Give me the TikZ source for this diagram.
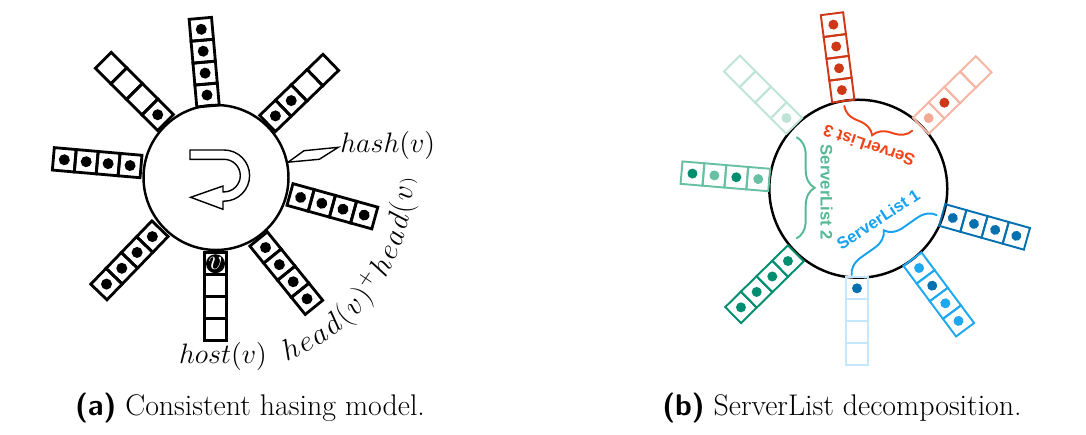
\RequirePackage{fix-cm}
\documentclass[tikz,border=0pt]{standalone}
\usepackage{fontspec}
\newfontfamily\hlvfont{Liberation Sans}
\usetikzlibrary{decorations.pathreplacing,decorations.text}
\definecolor{slred}{RGB}{206,56,22}
\definecolor{salmon}{RGB}{246,180,162}
\definecolor{salmonL}{RGB}{245,172,150}
\definecolor{tealF}{RGB}{190,228,215}
\definecolor{tealM}{RGB}{104,192,164}
\definecolor{tealD}{RGB}{0,142,112}
\definecolor{blueD}{RGB}{5,112,176}
\definecolor{blueL}{RGB}{30,168,240}
\definecolor{blueF}{RGB}{198,230,250}
\definecolor{slthree}{RGB}{238,68,26}
\definecolor{sltwo}{RGB}{86,184,148}
\definecolor{slone}{RGB}{22,162,240}
\begin{document}
\begin{tikzpicture}[x=0.02cm,y=0.02cm,line cap=round,
	ring/.style={circle,draw,line width=1.4pt,inner sep=0pt},
	cellA/.style={draw=black,line width=1.6pt,line join=miter},
	cellB/.style={line width=1.1pt,line join=miter},
	lbl/.style={font=\fontsize{16}{19}\selectfont,inner sep=0pt},
	sllbl/.style={font=\hlvfont\bfseries\fontsize{9.5}{11}\selectfont,inner sep=0pt},
	slbrace/.style={decorate,decoration={brace,amplitude=0.36cm},line width=1.1pt},
	capt/.style={font=\fontsize{17}{20}\selectfont,inner sep=0pt}]
	\useasboundingbox (0,0) rectangle (1086,434);
	% (a) consistent hashing ring
	\node[ring,minimum size=2.9cm] (ringA) at (216,256.5) {};
	\draw[line width=0.8pt,line join=miter] (190,284) -- (224,284) arc[start angle=90,end angle=-90,radius=25.6] -- (223,232.8) -- (223,224.7) -- (190.7,236.7) -- (223,248) -- (223,242.1) -- (224,242.1) arc[start angle=-90,end angle=90,radius=16.3] -- (190,274.7) -- cycle;
	\foreach \px/\py/\ang/\dl in {208/328/95/{black,black,black,black},
		165.5/311.5/135/{black,none,none,none},
		267.5/310.5/44/{black,black,none,none},
		141/267.5/175/{black,black,black,black},
		290/239.5/-15.5/{black,black,black,black},
		258.6/195/-51/{black,black,black,black},
		215.5/181.3/-90/{none,none,none,none},
		160/205.3/-134/{black,black,black,black}}
	{
		\begin{scope}[shift={(\px,\py)},rotate=\ang]
			\foreach \d [count=\i from 0] in \dl {
				\draw[cellA] (22*\i,-11.25) rectangle ++(22,22.5);
				\path[fill=\d] (22*\i+11,0) circle (5.5);
			}
		\end{scope}
	}
	\fill (215.5,170.3) circle (9.5);
	\node[lbl,text=white] (vA) at (215.5,171) {$v$};
	\node[lbl,anchor=base west] (hashA) at (340,282) {$hash(v)$};
	\draw[line width=0.8pt,line join=miter] (ringA.12) -- (304,283.3) -- (338.3,286.7) -- (319.3,274.7) -- cycle;
	\path[decorate,decoration={text along path,text align=fit to path,
		text={|\fontsize{17}{20}\selectfont|{$h$}{$e$}{$a$}{$d$}{$($}{$v$}{$)$}{$^{+}$}{$h$}{$e$}{$a$}{$d$}{$($}{$v$}{$)$}}}]
		(ringA.center) ++(-69:197) arc[start angle=-69,end angle=0,radius=197];
	\node[lbl,anchor=base] (hostA) at (223,71) {$host(v)$};
	% (b) serverlist decomposition
	\node[ring,minimum size=3.56cm] (ringB) at (858.3,245.3) {};
	\foreach \px/\py/\ang/\bc/\dl in {843.3/333/97.4/slred/{slred,slred,slred,slred},
		794.2/308.2/135/tealF/{tealF,none,none,none},
		920.8/308.2/44.4/salmon/{salmonL,slred,none,none},
		769.2/254/175.2/tealM/{tealM,tealD,tealM,tealD},
		942.2/219/-15.7/blueD/{blueD,blueD,blueD,blueD},
		912.5/174.8/-53.3/blueL/{blueL,blueD,blueL,blueL},
		857/156.7/-90/blueF/{blueD,none,none,none},
		795.8/180.7/-135.4/tealD/{tealD,tealD,tealD,tealD}}
	{
		\begin{scope}[shift={(\px,\py)},rotate=\ang]
			\foreach \d [count=\i from 0] in \dl {
				\draw[cellB,draw=\bc] (22*\i,-11.25) rectangle ++(22,22.5);
				\path[fill=\d] (22*\i+11,0) circle (5);
			}
		\end{scope}
	}
	\draw[slbrace,slthree] (912.3,303.3) -- (844.3,328);
	\draw[slbrace,sltwo] (796.7,296.7) -- (796.7,195.7);
	\draw[slbrace,slone] (851.7,159) -- (936.7,219);
	\node[sllbl,text=slthree,rotate=161] (slthreeL) at (869,288) {ServerList 3};
	\node[sllbl,text=sltwo,rotate=-90] (sltwoL) at (826.7,241.5) {ServerList 2};
	\node[sllbl,text=slone,rotate=33.4] (sloneL) at (878.3,214.8) {ServerList 1};
	% captions
	\node[capt] (capA) at (250,26) {\textsf{\bfseries (a)} Consistent hasing model.};
	\node[capt] (capB) at (842,26) {\textsf{\bfseries (b)} ServerList decomposition.};
\end{tikzpicture}
\end{document}
